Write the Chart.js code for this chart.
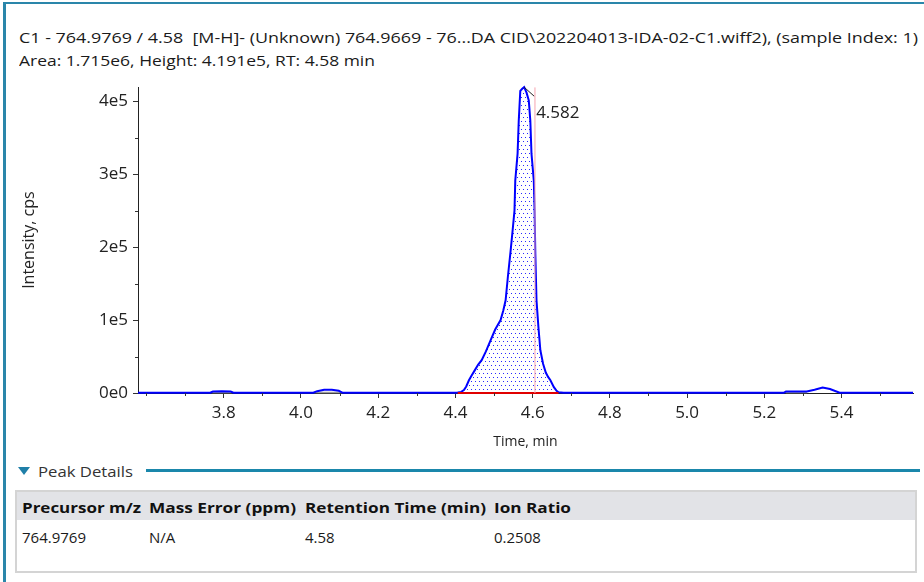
<!DOCTYPE html>
<html>
<head>
<meta charset="utf-8">
<script src="https://cdn.jsdelivr.net/npm/chart.js@4.4.1/dist/chart.umd.min.js"></script>
<style>
html,body{margin:0;padding:0;background:#fff;}
body{width:924px;height:582px;position:relative;overflow:hidden;font-family:'Open Sans',sans-serif;color:#1a1a1a;}
.abs{position:absolute;white-space:nowrap;}
.fit{transform-origin:0 50%;}
.hdr{font-weight:bold;font-size:15px;line-height:20px;top:497px;color:#111;}
.cell{font-size:15px;line-height:20px;top:527px;color:#1a1a1a;}
</style>
</head>
<body>
<div class="abs" style="left:3px;top:2px;width:921px;height:2px;background:#2a86aa"></div>
<div class="abs" style="left:3px;top:2px;width:3px;height:580px;background:#2a86aa"></div>

<div class="abs fit" data-w="899" style="left:19px;top:27px;font-size:15px;line-height:20px;">C1 - 764.9769 / 4.58&nbsp; [M-H]- (Unknown) 764.9669 - 76...DA CID\202204013-IDA-02-C1.wiff2), (sample Index: 1)</div>
<div class="abs fit" data-w="356" style="left:19px;top:50px;font-size:15px;line-height:20px;">Area: 1.715e6, Height: 4.191e5, RT: 4.58 min</div>

<canvas id="c" width="924" height="378" style="position:absolute;left:0;top:72px;width:924px;height:378px;"></canvas>

<div class="abs" style="left:18px;top:467px;width:0;height:0;border-left:6px solid transparent;border-right:6px solid transparent;border-top:8px solid #1f7fa8;"></div>
<div class="abs fit" data-w="95" style="left:38px;top:461px;font-size:15px;line-height:20px;color:#333;">Peak Details</div>
<div class="abs" style="left:146px;top:469px;width:774px;height:3px;background:#1a87ab"></div>

<div class="abs" style="left:15px;top:490px;width:902px;height:83px;border:2px solid #d4d4d4;box-sizing:border-box;background:#fff;"></div>
<div class="abs" style="left:17px;top:492px;width:898px;height:28px;background:#e2e3e7;"></div>
<div id="table"></div>

<script>
// ---- data ----
const traceTime = [3.578,3.700,3.765,3.772,3.795,3.818,3.825,4.000,4.032,4.042,4.060,4.080,4.098,4.108,4.300,4.400,
  4.406,4.415,4.422,4.428,4.435,4.442,4.450,4.459,4.468,4.479,4.491,4.503,4.517,4.524,4.530,4.536,4.543,4.548,4.553,
  4.555,4.561,4.564,4.568,4.573,4.578,4.584,4.590,4.594,4.597,4.603,4.605,4.607,4.610,4.615,4.620,4.627,4.634,4.640,
  4.646,4.655,4.662,4.667,4.680,5.000,5.250,5.256,5.300,5.310,5.330,5.351,5.370,5.395,5.402,5.585];
const traceIntensity = [300,300,300,2000,2300,2000,300,300,300,2500,4500,4600,3000,300,300,300,
  600,1500,4000,9000,17500,24000,31000,39000,45000,57000,72000,87000,100000,113000,127000,160000,195000,222000,250000,
  291000,328000,373000,414000,417000,419100,412000,401000,373000,328000,291000,250000,190000,127000,90000,58500,40000,28000,22000,
  17500,8000,3000,1000,300,300,300,2000,2000,2200,4500,7500,5500,500,300,300];
const peakStart = 4.406, peakEnd = 4.667;
const rtMarker = 4.606;
const apexTime = 4.578, apexValue = 419100, apexLabel = '4.582';
const bumpBaselines = [[3.768,3.822],[4.034,4.106],[5.255,5.310]];
const xRange = [3.578, 5.585];
const yRange = [0, 419100];
const xTickValues = [3.8,4.0,4.2,4.4,4.6,4.8,5.0,5.2,5.4];
const xTickLabels = ['3.8','4.0','4.2','4.4','4.6','4.8','5.0','5.2','5.4'];
const xMinorTicks = [3.6,3.7,3.9,4.1,4.3,4.5,4.7,4.9,5.1,5.3,5.5];
const yTickValues = [0,100000,200000,300000,400000];
const yTickLabels = ['0e0','1e5','2e5','3e5','4e5'];
const yMinorTicks = [50000,150000,250000,350000];
const tableHeaders = ['Precursor m/z','Mass Error (ppm)','Retention Time (min)','Ion Ratio'];
const tableRow = ['764.9769','N/A','4.58','0.2508'];

// ---- table ----
const colX = [22,149,305,494];
const hdrW = [119,147,181,77];
const tbl = document.getElementById('table');
tableHeaders.forEach((h,i)=>{
  const d=document.createElement('div'); d.className='abs hdr fit'; d.style.left=colX[i]+'px'; d.dataset.w=hdrW[i]; d.textContent=h; tbl.appendChild(d);
});
tableRow.forEach((h,i)=>{
  const d=document.createElement('div'); d.className='abs cell'; d.style.left=colX[i]+'px'; d.textContent=h; tbl.appendChild(d);
});
document.querySelectorAll('.fit').forEach(el=>{
  const w = el.getBoundingClientRect().width;
  const t = +el.dataset.w;
  if (w>0 && t>0) el.style.transform = 'scaleX(' + (t/w).toFixed(4) + ')';
});

// ---- chart ----
const tracePts = traceTime.map((t,i)=>({x:t,y:traceIntensity[i]}));
const peakPts = tracePts.filter(p=>p.x>=peakStart && p.x<=peakEnd);

function dotPattern(){
  const c=document.createElement('canvas'); c.width=4; c.height=8;
  const g=c.getContext('2d');
  g.fillStyle='#ffffff'; g.fillRect(0,0,4,8);
  g.fillStyle='#2a2aff';
  g.fillRect(1,1,1,1); g.fillRect(3,5,1,1);
  return g.createPattern(c,'repeat');
}

const overlay = {
  id:'overlay',
  afterDatasetsDraw(chart){
    const {ctx, scales:{x,y}} = chart;
    ctx.save();
    ctx.strokeStyle='#333'; ctx.lineWidth=1;
    xMinorTicks.forEach(v=>{
      const px=Math.round(x.getPixelForValue(v))+0.5;
      ctx.beginPath(); ctx.moveTo(px,y.bottom); ctx.lineTo(px,y.bottom+3); ctx.stroke();
    });
    yMinorTicks.forEach(v=>{
      const py=Math.round(y.getPixelForValue(v))+0.5;
      ctx.beginPath(); ctx.moveTo(x.left,py); ctx.lineTo(x.left-3,py); ctx.stroke();
    });
    // apex label with leader line
    const ax=x.getPixelForValue(apexTime), ay=y.getPixelForValue(apexValue);
    ctx.strokeStyle='#222'; ctx.lineWidth=1;
    ctx.beginPath(); ctx.moveTo(ax,ay); ctx.lineTo(ax+10,ay+9); ctx.stroke();
    ctx.fillStyle='#222'; ctx.font="17px 'Open Sans'"; ctx.textAlign='left'; ctx.textBaseline='middle';
    ctx.fillText(apexLabel, ax+12, ay+26);
    ctx.restore();
  }
};

const datasets = [
  {data:[{x:rtMarker,y:yRange[0]},{x:rtMarker,y:yRange[1]}], borderColor:'#f6a3ae', borderWidth:1, pointRadius:0, fill:false, order:1},
  {data:[{x:peakStart,y:0},{x:peakEnd,y:0}], borderColor:'#e00000', borderWidth:2, pointRadius:0, fill:false, order:2, clip:4},
  {data:tracePts, borderColor:'#0000ff', borderWidth:2, pointRadius:0, fill:false, tension:0, order:3, clip:4},
];
bumpBaselines.forEach(b=>datasets.push({data:[{x:b[0],y:800},{x:b[1],y:800}], borderColor:'#9c9c9c', borderWidth:1.5, pointRadius:0, fill:false, order:4, clip:4}));
datasets.push({data:peakPts, borderWidth:0, borderColor:'rgba(0,0,0,0)', backgroundColor:dotPattern(), pointRadius:0, fill:'origin', order:6});

new Chart(document.getElementById('c'), {
  type:'line',
  data:{datasets},
  options:{
    responsive:false, animation:false, events:[], devicePixelRatio:1,
    layout:{padding:{top:15,right:11,left:0,bottom:0}},
    plugins:{legend:{display:false}, tooltip:{enabled:false}},
    scales:{
      x:{type:'linear', min:xRange[0], max:xRange[1],
        afterBuildTicks:s=>{s.ticks = xTickValues.map(v=>({value:v}));},
        afterFit:s=>{s.height=57;},
        border:{display:true,color:'#222',width:1},
        grid:{display:true,drawOnChartArea:false,drawTicks:true,tickLength:5,tickColor:'#333'},
        ticks:{padding:5,autoSkip:false,maxRotation:0,color:'#222',font:{family:"'Open Sans'",size:17},
          callback:(v,i)=>xTickLabels[i]},
        title:{display:true,text:'Time, min',color:'#222',font:{family:"'Open Sans'",size:14},padding:{top:0,bottom:0}}
      },
      y:{type:'linear', min:yRange[0], max:yRange[1],
        afterBuildTicks:s=>{s.ticks = yTickValues.map(v=>({value:v}));},
        afterFit:s=>{s.width=138;},
        border:{display:true,color:'#222',width:1},
        grid:{display:true,drawOnChartArea:false,drawTicks:true,tickLength:5,tickColor:'#333'},
        ticks:{padding:5,autoSkip:false,color:'#222',font:{family:"'Open Sans'",size:17},
          callback:(v,i)=>yTickLabels[i]},
        title:{display:true,text:'Intensity, cps',color:'#222',font:{family:"'Open Sans'",size:16},padding:{top:20,bottom:0}}
      }
    }
  },
  plugins:[overlay]
});
</script>
</body>
</html>
